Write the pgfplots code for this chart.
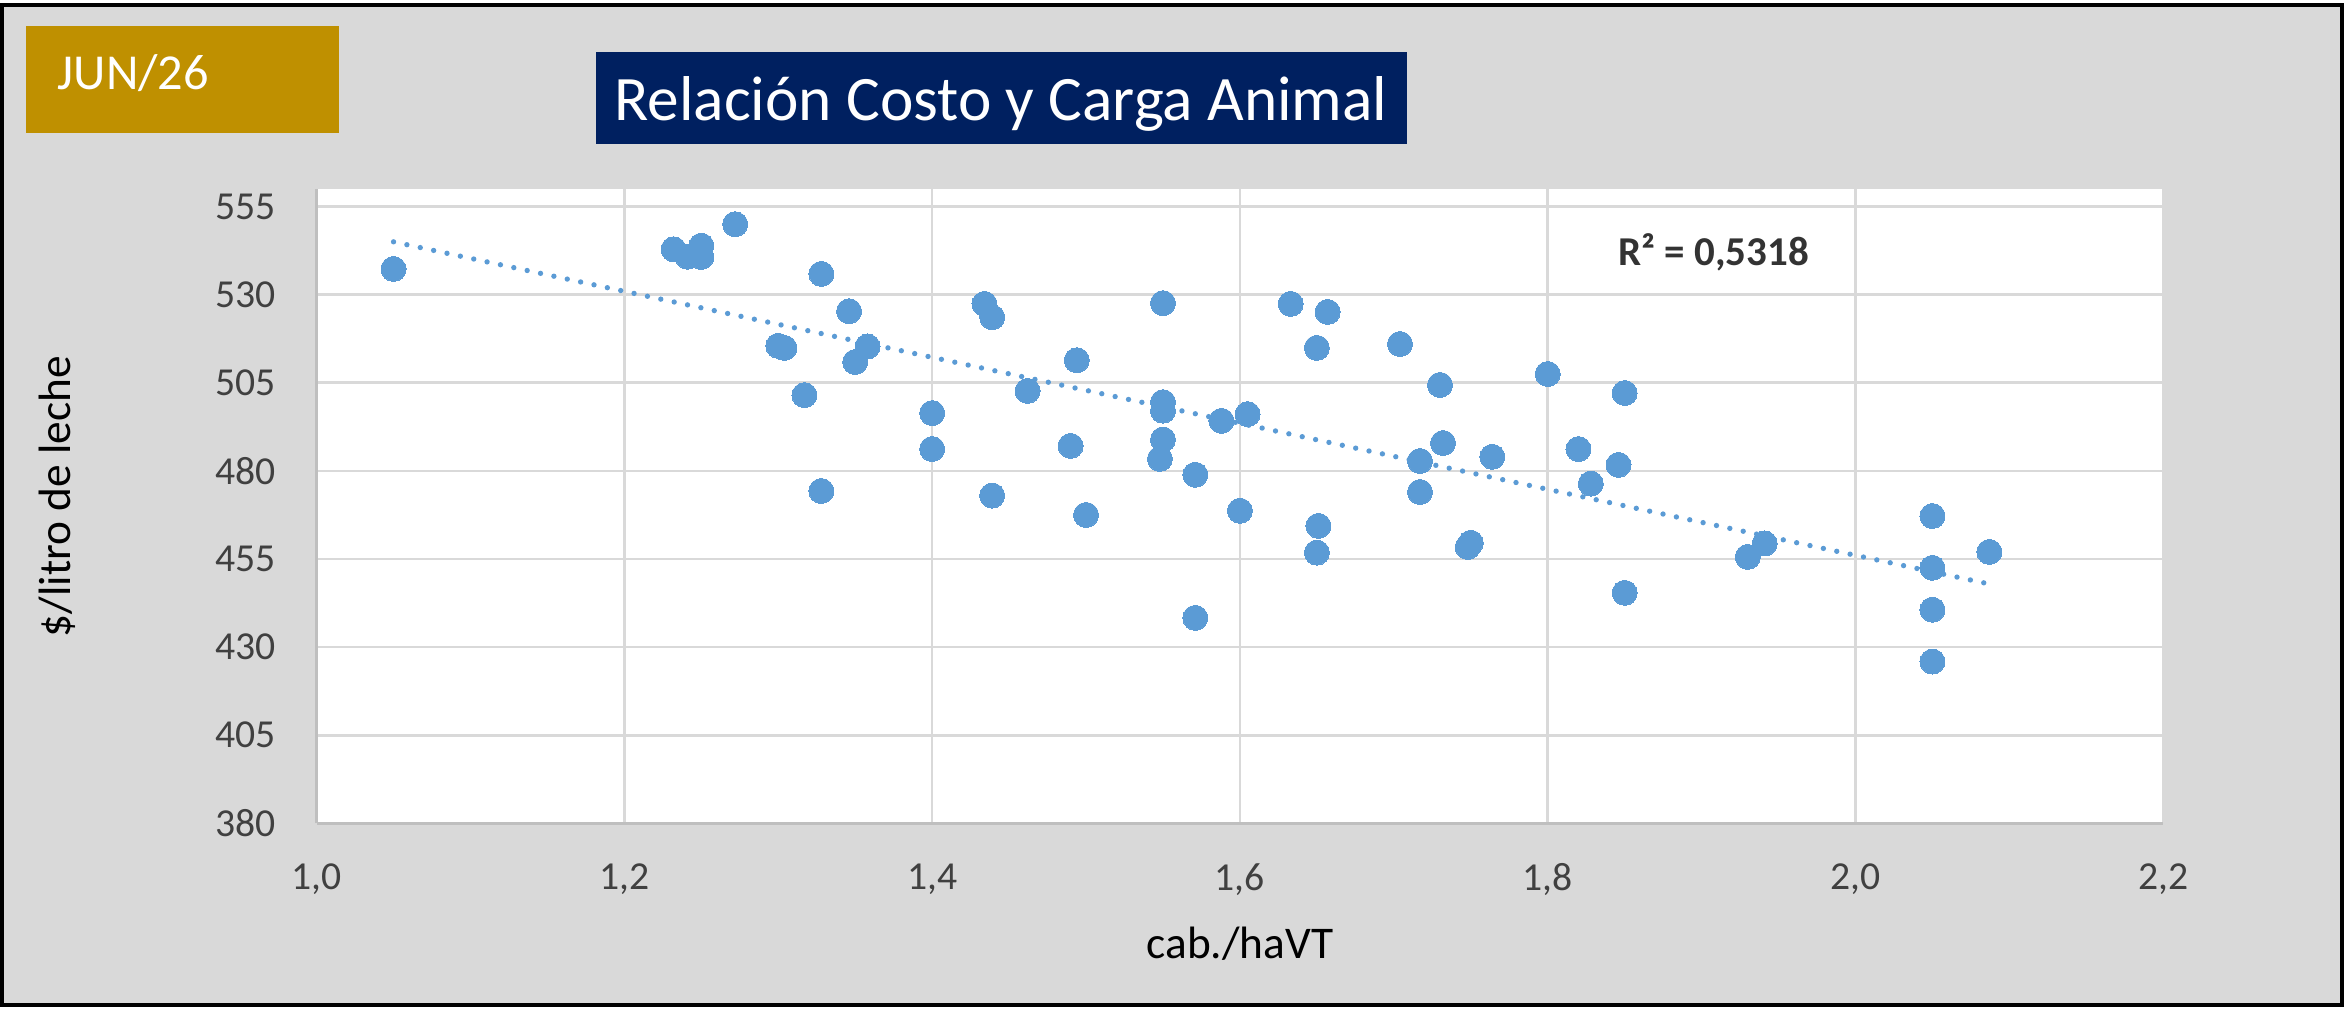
\documentclass[border=0pt]{standalone}
\usepackage{pgfplots}
\pgfplotsset{compat=1.18}
\usepackage{pgfplotstable}
\usepackage{fontspec}
\setmainfont{Carlito}
\definecolor{bgray}{HTML}{D9D9D9}
\definecolor{gridc}{HTML}{D9D9D9}
\definecolor{axc}{HTML}{BFBFBF}
\definecolor{ptblue}{HTML}{5B9BD5}
\definecolor{navy}{HTML}{002060}
\definecolor{gold}{HTML}{BF9000}
\definecolor{tickc}{HTML}{404040}
\definecolor{rtext}{HTML}{333333}

\pgfplotstableread{
x y
1.050 537.3
1.232 542.9
1.241 540.8
1.250 543.9
1.250 540.7
1.272 550.0
1.300 515.5
1.304 514.9
1.317 501.5
1.328 535.9
1.328 474.3
1.346 525.3
1.358 515.3
1.350 510.9
1.434 527.4
1.439 523.6
1.400 496.4
1.400 486.2
1.439 473.0
1.462 502.7
1.494 511.4
1.490 487.1
1.500 467.5
1.550 527.6
1.550 499.5
1.550 497.1
1.550 488.9
1.548 483.4
1.571 478.9
1.571 438.3
1.588 494.2
1.605 496.1
1.600 468.7
1.633 527.4
1.657 525.1
1.650 514.9
1.704 516.0
1.730 504.4
1.800 507.5
1.850 502.1
1.732 487.9
1.717 482.8
1.717 474.0
1.764 484.0
1.820 486.2
1.846 481.7
1.828 476.4
1.651 464.4
1.650 456.8
1.750 459.6
1.748 458.4
1.850 445.4
1.930 455.6
1.941 459.4
2.050 467.2
2.050 452.5
2.050 440.6
2.050 425.9
2.087 457.0
}\pts

\begin{document}
\begin{tikzpicture}
\begin{scope}[x=0.3pt,y=0.3pt]
\useasboundingbox (0,0) rectangle (2351,1012);
\fill[white] (0,0) rectangle (2351,1012);
\filldraw[fill=bgray, draw=black, line width=1.1pt] (2,7) rectangle (2342,1007);
\fill[gold] (26,879) rectangle (339,986);
\node[anchor=base west, inner sep=0pt, text=white, font=\fontsize{15.1}{18}\selectfont] at (57,922) {JUN/26};
\fill[navy] (596,868) rectangle (1407,960);
\node[anchor=base, inner sep=0pt, text=white, font=\fontsize{19}{23}\selectfont] at (1001,891) {Relación Costo y Carga Animal};
\end{scope}
\begin{axis}[
  at={(94.98pt,56.61pt)}, anchor=south west,
  scale only axis, width=554.0pt, height=190.3pt,
  xmin=1, xmax=2.2, ymin=380, ymax=560,
  xtick={1.0,1.2,1.4,1.6,1.8,2.0,2.2},
  ytick={380,405,430,455,480,505,530,555},
  axis x line*=bottom, axis y line*=left,
  axis line style={-, draw=axc, line width=0.8pt},
  axis background/.style={fill=white},
  grid=major,
  major grid style={draw=gridc, line width=0.8pt},
  major tick length=0pt,
  tick style={draw=none},
  /pgf/number format/assume math mode=true,
  ticklabel style={font=\fontsize{11.9}{14}\selectfont, text=tickc, inner sep=0pt},
  xticklabel style={anchor=north, yshift=-11.9pt, /pgf/number format/.cd, fixed, fixed zerofill, precision=1, use comma},
  yticklabel style={anchor=east, xshift=-12pt, /pgf/number format/.cd, fixed, precision=0, 1000 sep={}},
  xlabel={cab./haVT},
  xlabel style={at={(axis description cs:0.5,-0.2127)}, anchor=base, inner sep=0pt, font=\fontsize{13.6}{16}\selectfont, text=black},
  ylabel={\$/litro de leche},
  ylabel style={at={(axis description cs:-0.1335,0.515)}, anchor=base, rotate=0, inner sep=0pt, font=\fontsize{13.6}{16}\selectfont, text=black},
]
\addplot[ptblue, line width=1.6pt, line cap=round, dash pattern=on 0pt off 4.1pt] coordinates {(1.05,545.0) (2.087,447.9)};
\addplot[only marks, mark=*, mark size=3.75pt, mark options={fill=ptblue, draw=ptblue, line width=0pt}] table[x=x, y=y] {\pts};
\node[font=\bfseries\fontsize{12.3}{15}\selectfont, text=rtext, inner sep=0pt] at (axis cs:1.908,541.9) {R² = 0,5318};
\end{axis}
\end{tikzpicture}
\end{document}
